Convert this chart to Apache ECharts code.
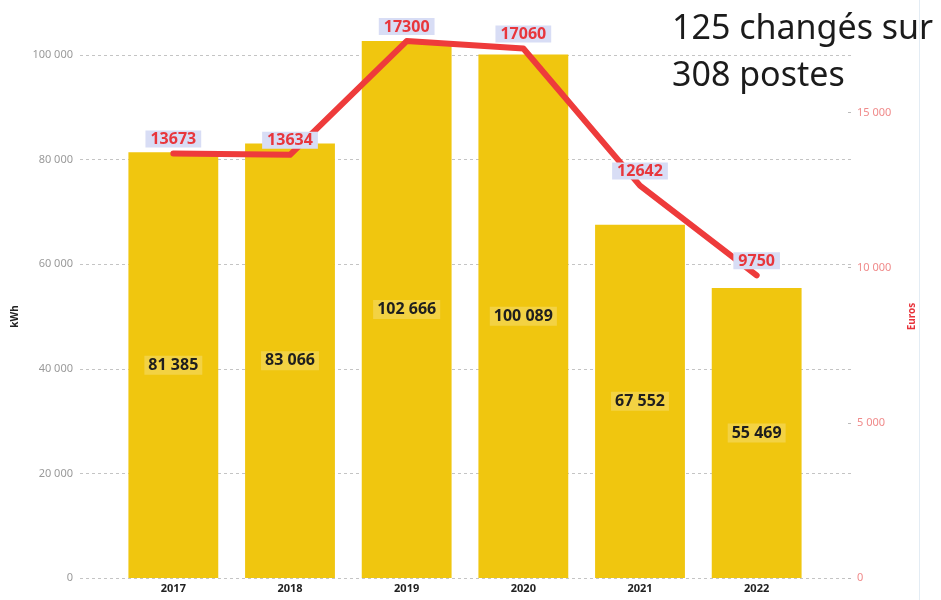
<!DOCTYPE html>
<html>
<head>
<meta charset="utf-8">
<script src="https://cdn.jsdelivr.net/npm/echarts@6/dist/echarts.min.js"></script>
<style>
    html, body { margin: 0; padding: 0; background: #fff; }
    #chart { width: 941px; height: 600px; }
</style>
</head>
<body>
<div id="chart"></div>
<script>
// data
let years = ["2017", "2018", "2019", "2020", "2021", "2022"],
    kwh = [81385, 83066, 102666, 100089, 67552, 55469],
    euros = [13673, 13634, 17300, 17060, 12642, 9750],
    euroTicks = [0, 5000, 10000, 15000],
    note = "125 changés sur\n308 postes";

function spaced(v) {
    return String(v).replace(/\B(?=(\d{3})+(?!\d))/g, " ");
}

let font = "Noto Sans",
    kwhMax = 100000,
    euroMax = 16850;

let chart = echarts.init(document.getElementById("chart"), null, { renderer: "canvas" });

let option = {
    animation: false,
    textStyle: { fontFamily: font },
    title: {
        text: note,
        left: 667,
        top: 1,
        textStyle: {
            fontFamily: font,
            fontSize: 34,
            fontWeight: "normal",
            lineHeight: 47,
            color: "#1b1b1b"
        }
    },
    graphic: [{
        type: "line",
        shape: { x1: 919.5, y1: 0, x2: 919.5, y2: 600 },
        style: { stroke: "#e3ecf4", lineWidth: 1 }
    }],
    grid: [
        // axes + gridlines span the wider area
        { left: 80, right: 90, top: 55, bottom: 22 },
        // bars and line sit in a narrower band
        { left: 115, right: 126, top: 55, bottom: 22 }
    ],
    xAxis: [
        { gridIndex: 0, type: "value", show: false, min: 0, max: 1 },
        {
            gridIndex: 1,
            type: "category",
            data: years,
            axisLine: { show: false },
            axisTick: { show: false },
            axisLabel: {
                margin: 5,
                fontSize: 11,
                fontWeight: "bold",
                color: "#222"
            }
        }
    ],
    yAxis: [
        {
            gridIndex: 0,
            type: "value",
            position: "left",
            min: 0,
            max: kwhMax,
            interval: 20000,
            name: "kWh",
            nameLocation: "middle",
            nameRotate: 90,
            nameGap: 60,
            nameTextStyle: { fontSize: 10, fontWeight: "bold", color: "#222" },
            axisLine: { show: false },
            axisTick: { show: false },
            axisLabel: { margin: 7, fontSize: 11, color: "#9a9a9a", formatter: spaced },
            splitLine: { lineStyle: { type: [3, 3], color: "#c4c4c4" } }
        },
        {
            gridIndex: 0,
            type: "value",
            position: "right",
            min: 0,
            max: euroMax,
            name: "Euros",
            nameLocation: "middle",
            nameRotate: 90,
            nameGap: 56,
            nameTextStyle: { fontSize: 10, fontWeight: "bold", color: "#e8323a" },
            axisLine: { show: false },
            axisTick: {
                show: true,
                inside: true,
                length: 3,
                customValues: euroTicks,
                lineStyle: { color: "#bbb" }
            },
            axisLabel: {
                margin: 6,
                fontSize: 11,
                color: "#f08a8a",
                customValues: euroTicks,
                formatter: spaced
            },
            splitLine: { show: false }
        },
        { gridIndex: 1, type: "value", show: false, min: 0, max: kwhMax },
        { gridIndex: 1, type: "value", show: false, min: 0, max: euroMax }
    ],
    series: [
        {
            name: "kWh",
            type: "bar",
            xAxisIndex: 1,
            yAxisIndex: 2,
            data: kwh,
            clip: false,
            barCategoryGap: "23%",
            itemStyle: { color: "#f0c60f" },
            label: {
                show: true,
                position: "inside",
                formatter: p => spaced(p.value),
                fontSize: 16,
                fontWeight: "bold",
                color: "#1e1e1e",
                backgroundColor: "rgba(255,255,255,0.22)",
                padding: [2, 4, 1, 4]
            }
        },
        {
            name: "Euros",
            type: "line",
            xAxisIndex: 1,
            yAxisIndex: 3,
            data: euros,
            clip: false,
            symbol: "circle",
            symbolSize: 2,
            itemStyle: { color: "#ee3b3b" },
            lineStyle: { color: "#ee3b3b", width: 6, cap: "round", join: "round" },
            label: {
                show: true,
                position: "top",
                distance: 5,
                fontSize: 16,
                fontWeight: "bold",
                color: "#e8363c",
                backgroundColor: "#d8ddf5",
                padding: [1, 5, 0, 5]
            },
            z: 3
        }
    ]
};

chart.setOption(option);
</script>
</body>
</html>
